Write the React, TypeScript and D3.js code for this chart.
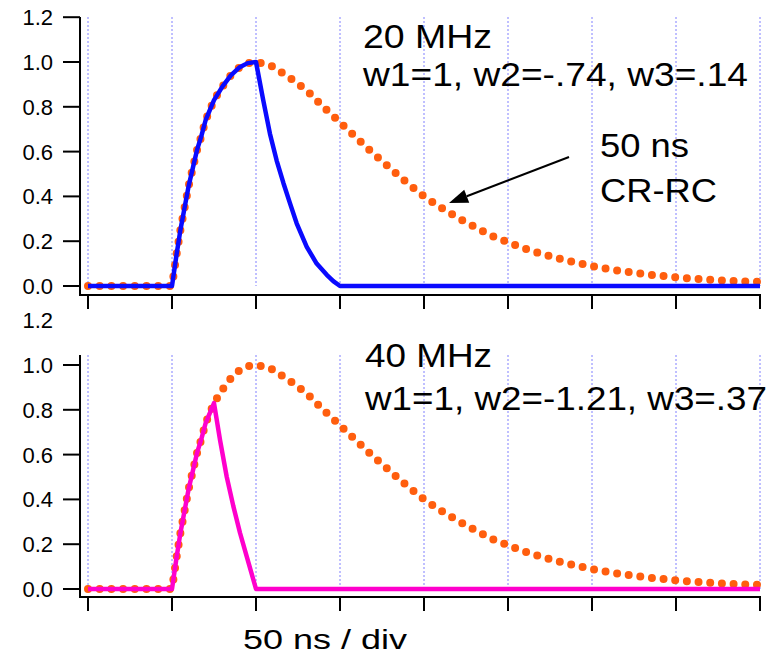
import React, { useEffect, useRef } from 'react';
import * as d3 from 'd3';

// 50 ns CR-RC reference shape (orange dots), time in ns
const crrcTime = [0, 50, 52.5, 55, 57.5, 60, 62.5, 65, 67.5, 70, 75, 80, 85, 90, 95, 100, 105, 110, 120, 130, 140, 150, 160, 170, 180, 190, 200, 210, 220, 230, 240, 250, 260, 270, 280, 290, 300, 310, 320, 330, 340, 350, 360, 370, 380, 390, 400];
const crrcValue = [0, 0, 0.13, 0.25, 0.35, 0.45, 0.53, 0.61, 0.67, 0.74, 0.83, 0.89, 0.94, 0.975, 0.995, 1.0, 0.993, 0.98, 0.93, 0.875, 0.8, 0.73, 0.66, 0.59, 0.525, 0.46, 0.4, 0.35, 0.305, 0.265, 0.225, 0.195, 0.167, 0.143, 0.123, 0.105, 0.089, 0.075, 0.064, 0.054, 0.046, 0.039, 0.033, 0.028, 0.024, 0.021, 0.018];

// 20 MHz filtered pulse (blue)
const f20Time = [0, 50, 52.5, 55, 57.5, 60, 62.5, 65, 67.5, 70, 75, 80, 85, 90, 95, 100, 104.3, 108.3, 112.3, 116.3, 120.2, 124.2, 130.2, 136.1, 142.1, 146, 150, 400];
const f20Value = [0, 0, 0.13, 0.25, 0.35, 0.45, 0.53, 0.61, 0.67, 0.74, 0.83, 0.89, 0.94, 0.975, 0.995, 1.0, 0.83, 0.68, 0.56, 0.46, 0.37, 0.28, 0.175, 0.1, 0.05, 0.022, 0, 0];

// 40 MHz filtered pulse (magenta)
const f40Time = [0, 50, 52.5, 55, 57.5, 60, 62.5, 65, 67.5, 70, 75, 78.6, 82.6, 86.5, 90.5, 94.5, 100, 400];
const f40Value = [0, 0, 0.13, 0.25, 0.35, 0.45, 0.53, 0.61, 0.67, 0.74, 0.83, 0.665, 0.5, 0.37, 0.25, 0.145, 0, 0];

const xTicks = [0, 50, 100, 150, 200, 250, 300, 350, 400];
const yTicks = [0, 0.2, 0.4, 0.6, 0.8, 1.0, 1.2];

const FONT = 'Liberation Sans, Arial, Helvetica, sans-serif';

const App = () => {
  const svgRef = useRef(null);

  useEffect(() => {
    const svg = d3.select(svgRef.current);
    svg.selectAll('*').remove();

    const width = 783;
    const height = 661;
    svg.append('rect').attr('width', width).attr('height', height).attr('fill', '#fff');

    const x = d3.scaleLinear().domain([0, 400]).range([88, 760]);
    const axisX = 80;

    const crrc = crrcTime.map((t, i) => [t, crrcValue[i]]);
    const f20 = f20Time.map((t, i) => [t, f20Value[i]]);
    const f40 = f40Time.map((t, i) => [t, f40Value[i]]);

    const drawPanel = (zeroY, axisBottom, axisTop, gridTop, tickMax, pulse, color) => {
      const y = d3.scaleLinear().domain([0, 1]).range([zeroY, zeroY - 224]);
      const g = svg.append('g');

      // dotted vertical grid
      g.selectAll('line.grid')
        .data(xTicks)
        .enter().append('line')
        .attr('x1', d => x(d)).attr('x2', d => x(d))
        .attr('y1', gridTop).attr('y2', zeroY)
        .attr('stroke', '#8080ff').attr('stroke-width', 1)
        .attr('stroke-dasharray', '2,2');

      const line = d3.line().x(d => x(d[0])).y(d => y(d[1]));

      // CR-RC reference as round dots
      g.append('path')
        .attr('d', line(crrc))
        .attr('fill', 'none')
        .attr('stroke', '#ff5e0e')
        .attr('stroke-width', 8)
        .attr('stroke-linecap', 'round')
        .attr('stroke-dasharray', '0,11.7');

      g.append('path')
        .attr('d', line(pulse))
        .attr('fill', 'none')
        .attr('stroke', color)
        .attr('stroke-width', 4.5)
        .attr('stroke-linejoin', 'round');

      // axes
      g.append('line')
        .attr('x1', axisX).attr('x2', axisX)
        .attr('y1', axisTop).attr('y2', axisBottom + 1)
        .attr('stroke', '#000').attr('stroke-width', 2);
      g.append('line')
        .attr('x1', axisX - 1).attr('x2', 761)
        .attr('y1', axisBottom).attr('y2', axisBottom)
        .attr('stroke', '#000').attr('stroke-width', 2);

      g.selectAll('line.xt')
        .data(xTicks)
        .enter().append('line')
        .attr('x1', d => x(d)).attr('x2', d => x(d))
        .attr('y1', axisBottom).attr('y2', axisBottom + 14)
        .attr('stroke', '#000').attr('stroke-width', 2);

      g.selectAll('line.yt')
        .data(yTicks.filter(v => v <= tickMax))
        .enter().append('line')
        .attr('x1', 63).attr('x2', axisX)
        .attr('y1', d => y(d)).attr('y2', d => y(d))
        .attr('stroke', '#000').attr('stroke-width', 2);

      g.selectAll('text.yl')
        .data(yTicks)
        .enter().append('text')
        .attr('x', 53)
        .attr('y', d => y(d) + 8)
        .attr('text-anchor', 'end')
        .attr('font-family', FONT)
        .attr('font-size', 22)
        .attr('fill', '#000')
        .text(d => d3.format('.1f')(d));
    };

    drawPanel(286, 295, 17, 17, 1.2, f20, '#0a0aff');
    drawPanel(589, 597, 355, 355, 1.0, f40, '#ff00cc');

    const label = (txt, xPos, yPos, size, len) => {
      svg.append('text')
        .attr('x', xPos).attr('y', yPos)
        .attr('font-family', FONT)
        .attr('font-size', size)
        .attr('textLength', len)
        .attr('lengthAdjust', 'spacingAndGlyphs')
        .attr('fill', '#000')
        .text(txt);
    };

    label('20 MHz', 363, 48, 33, 129);
    label('w1=1, w2=-.74, w3=.14', 363, 86, 34, 385);
    label('50 ns', 600, 157, 34, 89);
    label('CR-RC', 600, 202, 34, 117);
    label('40 MHz', 365, 367, 33, 127);
    label('w1=1, w2=-1.21, w3=.37', 365, 410, 34, 402);
    label('50 ns / div', 243, 649, 28, 164);

    // arrow pointing to the dotted curve
    const tip = [449, 203];
    const tail = [569, 157];
    const ang = Math.atan2(tail[1] - tip[1], tail[0] - tip[0]);
    const hl = 19;
    const hw = 7;
    const bx = tip[0] + hl * Math.cos(ang);
    const by = tip[1] + hl * Math.sin(ang);
    svg.append('line')
      .attr('x1', tail[0]).attr('y1', tail[1])
      .attr('x2', bx).attr('y2', by)
      .attr('stroke', '#000').attr('stroke-width', 2);
    svg.append('polygon')
      .attr('points', [
        tip,
        [bx - hw * Math.sin(ang), by + hw * Math.cos(ang)],
        [bx + hw * Math.sin(ang), by - hw * Math.cos(ang)],
      ].map(p => p.join(',')).join(' '))
      .attr('fill', '#000');
  }, []);

  return (
    <svg
      ref={svgRef}
      width={783}
      height={661}
      style={{ position: 'absolute', left: 0, top: 0, display: 'block' }}
    />
  );
};

export default App;
